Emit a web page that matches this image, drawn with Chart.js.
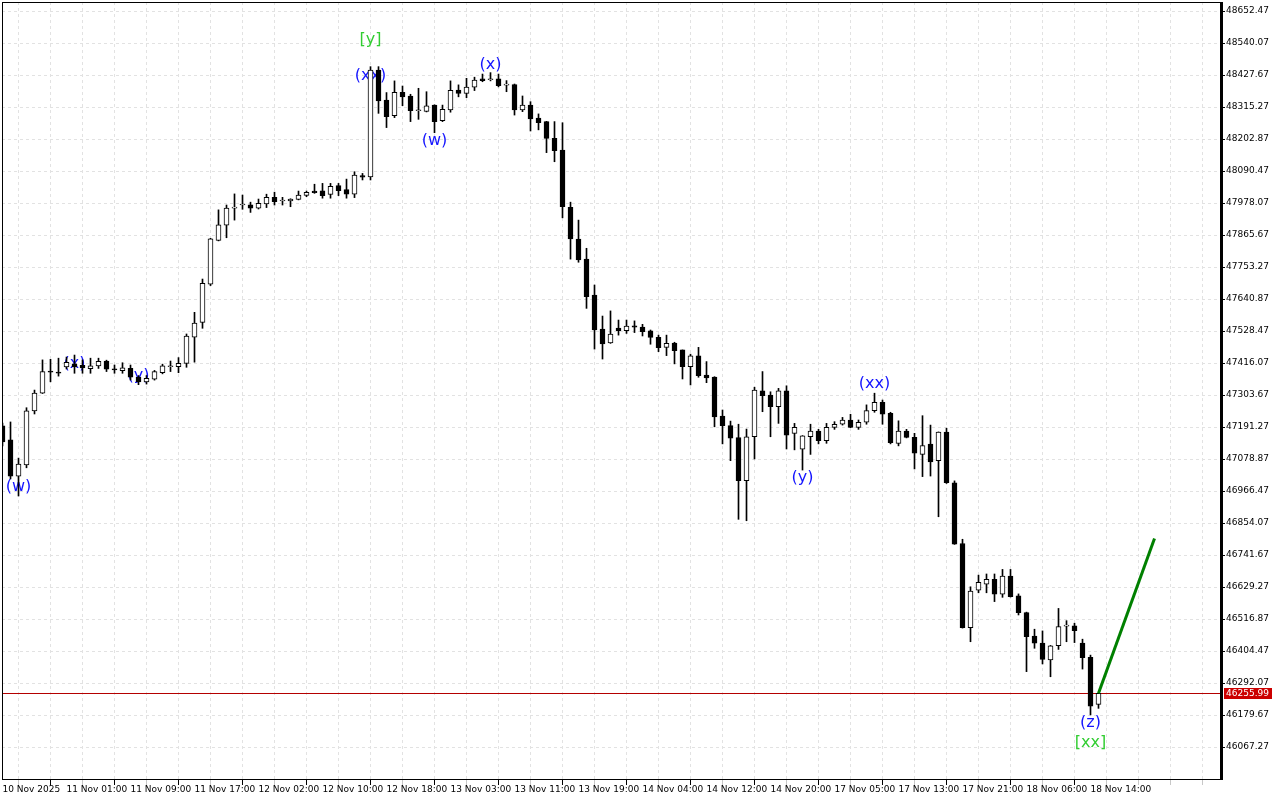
<!DOCTYPE html>
<html>
<head>
<meta charset="utf-8">
<script src="https://cdn.jsdelivr.net/npm/chart.js@4.4.1/dist/chart.umd.min.js"></script>
<style>
  html, body { margin: 0; padding: 0; background: #fff; }
</style>
</head>
<body>
<canvas id="chart" width="1280" height="800"></canvas>
<script>
// hourly candles, bar 0 = 10 Nov 16:00 ... bar 137 = 18 Nov 15:00
const opens = [
  47195, 47146, 47019, 47058, 47248, 47310, 47386, 47384, 47402, 47413,
  47408, 47396, 47406, 47423, 47394, 47389, 47397, 47366, 47350, 47359,
  47382, 47403, 47403, 47415, 47507, 47559, 47693, 47847, 47900, 47960,
  47971, 47972, 47960, 47975, 47998, 47985, 47985, 47991, 48005, 48020,
  48021, 48008, 48039, 48025, 48009, 48074, 48070, 48445, 48340, 48285,
  48367, 48354, 48302, 48300, 48322, 48267, 48305, 48375, 48363, 48385,
  48414, 48411, 48414, 48392, 48394, 48305, 48322, 48276, 48264, 48205,
  48164, 47963, 47851, 47781, 47655, 47535, 47487, 47539, 47530, 47547,
  47542, 47529, 47506, 47471, 47486, 47462, 47403, 47441, 47374, 47367,
  47230, 47196, 47154, 47003, 47157, 47318, 47303, 47263, 47318, 47169,
  47113, 47157, 47177, 47143, 47190, 47201, 47216, 47190, 47208, 47249,
  47278, 47239, 47134, 47177, 47155, 47095, 47131, 47073, 47173, 46995,
  46782, 46486, 46618, 46639, 46656, 46604, 46668, 46598, 46539, 46457,
  46432, 46373, 46423, 46492, 46493, 46432, 46382, 46217
];
const highs = [
  47205, 47209, 47082, 47259, 47321, 47427, 47429, 47433, 47437, 47444,
  47427, 47433, 47433, 47426, 47409, 47417, 47409, 47372, 47372, 47390,
  47412, 47423, 47435, 47518, 47594, 47711, 47854, 47954, 47971, 48010,
  48006, 47981, 47992, 48009, 48016, 47998, 47993, 48020, 48020, 48044,
  48047, 48047, 48047, 48062, 48088, 48082, 48457, 48457, 48366, 48407,
  48389, 48360, 48381, 48369, 48323, 48322, 48407, 48393, 48416, 48420,
  48431, 48436, 48431, 48408, 48396, 48354, 48334, 48291, 48265, 48264,
  48260, 47981, 47918, 47819, 47690, 47581, 47599, 47567, 47567, 47564,
  47552, 47532, 47514, 47514, 47489, 47462, 47447, 47471, 47421, 47368,
  47251, 47212, 47201, 47184, 47331, 47386, 47315, 47327, 47336, 47204,
  47161, 47201, 47183, 47204, 47210, 47225, 47236, 47216, 47269, 47310,
  47286, 47243, 47213, 47183, 47169, 47231, 47198, 47174, 47187, 47002,
  46797, 46630, 46671, 46675, 46675, 46691, 46691, 46605, 46541, 46481,
  46475, 46424, 46554, 46511, 46502, 46446, 46390, 46256
];
const lows = [
  47125, 47009, 46949, 47048, 47237, 47309, 47350, 47370, 47395, 47380,
  47380, 47380, 47397, 47386, 47380, 47380, 47356, 47340, 47342, 47356,
  47378, 47386, 47382, 47401, 47419, 47538, 47688, 47845, 47856, 47918,
  47956, 47945, 47957, 47962, 47971, 47971, 47965, 47989, 48000, 48012,
  47995, 47995, 48004, 47995, 47997, 48059, 48059, 48293, 48243, 48278,
  48320, 48264, 48272, 48298, 48225, 48264, 48297, 48351, 48348, 48373,
  48404, 48407, 48386, 48369, 48287, 48299, 48231, 48235, 48155, 48123,
  47926, 47781, 47770, 47608, 47465, 47430, 47485, 47514, 47520, 47523,
  47511, 47482, 47456, 47442, 47413, 47360, 47339, 47366, 47347, 47192,
  47132, 47073, 46867, 46862, 47079, 47245, 47157, 47204, 47114, 47111,
  47040, 47095, 47132, 47134, 47183, 47198, 47189, 47183, 47201, 47243,
  47201, 47132, 47125, 47153, 47044, 47017, 47019, 46876, 46993, 46779,
  46485, 46437, 46609, 46609, 46578, 46593, 46594, 46531, 46332, 46414,
  46359, 46314, 46410, 46437, 46434, 46341, 46180, 46203
];
const closes = [
  47139, 47019, 47061, 47248, 47310, 47386, 47384, 47380, 47418, 47402,
  47399, 47406, 47422, 47394, 47392, 47399, 47366, 47350, 47362, 47386,
  47406, 47405, 47415, 47511, 47556, 47696, 47852, 47901, 47960, 47962,
  47973, 47960, 47977, 47998, 47983, 47987, 47992, 48006, 48016, 48014,
  48004, 48037, 48021, 48009, 48076, 48069, 48445, 48337, 48281, 48367,
  48351, 48302, 48303, 48319, 48264, 48307, 48374, 48363, 48385, 48410,
  48408, 48413, 48390, 48394, 48305, 48322, 48273, 48260, 48205, 48162,
  47965, 47852, 47778, 47649, 47532, 47483, 47518, 47530, 47546, 47542,
  47526, 47506, 47470, 47485, 47459, 47403, 47441, 47372, 47364, 47227,
  47196, 47152, 47003, 47157, 47321, 47301, 47263, 47318, 47163, 47190,
  47160, 47177, 47143, 47190, 47201, 47216, 47190, 47208, 47249, 47278,
  47236, 47136, 47177, 47155, 47099, 47126, 47069, 47173, 46996, 46780,
  46486, 46615, 46646, 46656, 46604, 46668, 46595, 46539, 46455, 46432,
  46375, 46423, 46490, 46494, 46476, 46381, 46211, 46255.99
];

// time axis labels, one every 8 bars
const tickLabels = [
  '10 Nov 2025', '11 Nov 01:00', '11 Nov 09:00', '11 Nov 17:00', '12 Nov 02:00',
  '12 Nov 10:00', '12 Nov 18:00', '13 Nov 03:00', '13 Nov 11:00', '13 Nov 19:00',
  '14 Nov 04:00', '14 Nov 12:00', '14 Nov 20:00', '17 Nov 05:00', '17 Nov 13:00',
  '17 Nov 21:00', '18 Nov 06:00', '18 Nov 14:00'
];
// price scale labels
const yTicks = [
  48652.47, 48540.07, 48427.67, 48315.27, 48202.87, 48090.47, 47978.07, 47865.67,
  47753.27, 47640.87, 47528.47, 47416.07, 47303.67, 47191.27, 47078.87, 46966.47,
  46854.07, 46741.67, 46629.27, 46516.87, 46404.47, 46292.07, 46179.67, 46067.27
];

// projected move
const projBars = [137, 144];
const projPrices = [46255.99, 46800];

// wave marks
const waveText  = ['(w)', '(x)', '(y)', '[y]', '(xx)', '(w)', '(x)', '(y)', '(xx)', '(z)', '[xx]'];
const waveBar   = [2, 9, 17, 46, 46, 54, 61, 100, 109, 136, 136];
const wavePrice = [46980, 47413, 47371, 48551, 48424, 48196, 48463, 47012, 47342, 46152, 46081];
const waveColor = ['#1515ff', '#1515ff', '#1515ff', '#32cd32', '#1515ff', '#1515ff', '#1515ff', '#1515ff', '#1515ff', '#1515ff', '#32cd32'];

const lastPrice = closes[closes.length - 1];
const FONT = 'DejaVu Sans';

const overlay = {
  id: 'overlay',
  beforeDatasetsDraw(chart) {
    const { ctx, chartArea: a, scales: { x, y } } = chart;
    ctx.save();
    // wave labels sit under the candles
    ctx.font = '16px "' + FONT + '"';
    ctx.textAlign = 'center';
    ctx.textBaseline = 'middle';
    waveText.forEach((t, i) => {
      ctx.fillStyle = waveColor[i];
      ctx.fillText(t, x.getPixelForValue(waveBar[i]), y.getPixelForValue(wavePrice[i]));
    });
    // last price line
    const py = Math.round(y.getPixelForValue(lastPrice)) + 0.5;
    ctx.strokeStyle = '#b40000';
    ctx.lineWidth = 1;
    ctx.beginPath();
    ctx.moveTo(a.left, py);
    ctx.lineTo(a.right, py);
    ctx.stroke();
    ctx.restore();
  },
  afterDraw(chart) {
    const { ctx, chartArea: a, scales: { y } } = chart;
    ctx.save();
    ctx.strokeStyle = '#000';
    ctx.lineWidth = 1;
    ctx.strokeRect(a.left + 0.5, a.top + 0.5, a.right - a.left, a.bottom - a.top);
    ctx.fillStyle = '#000';
    ctx.fillRect(a.right - 2, a.top, 3, a.bottom - a.top + 1);
    // price tag
    const py = Math.round(y.getPixelForValue(lastPrice));
    ctx.fillStyle = '#cc0000';
    ctx.fillRect(a.right + 2, py - 5, 48, 11);
    ctx.fillStyle = '#fff';
    ctx.font = '9px "' + FONT + '"';
    ctx.textBaseline = 'middle';
    ctx.textAlign = 'left';
    ctx.fillText(lastPrice.toFixed(2), a.right + 4, py + 1);
    ctx.restore();
  }
};

new Chart(document.getElementById('chart'), {
  type: 'bar',
  data: {
    datasets: [
      {
        label: 'wick',
        data: highs.map((h, i) => ({ x: i, y: [lows[i], h] })),
        backgroundColor: '#000',
        barThickness: 1,
        grouped: false,
        order: 3
      },
      {
        label: 'body',
        data: opens.map((o, i) => ({ x: i, y: [o, closes[i]] })),
        backgroundColor: opens.map((o, i) => closes[i] >= o ? '#fff' : '#000'),
        borderColor: '#000',
        borderWidth: 1,
        borderSkipped: false,
        barThickness: 5,
        minBarLength: 1,
        grouped: false,
        order: 2
      },
      {
        type: 'line',
        label: 'projection',
        data: projBars.map((b, i) => ({ x: b, y: projPrices[i] })),
        borderColor: '#008000',
        borderWidth: 3,
        pointRadius: 0,
        order: 1
      }
    ]
  },
  options: {
    responsive: false,
    animation: false,
    events: [],
    layout: { padding: { top: 2, left: 2, right: 0, bottom: 0 } },
    plugins: { legend: { display: false }, tooltip: { enabled: false } },
    scales: {
      x: {
        type: 'linear',
        offset: false,
        min: -0.0625,
        max: 152.4375,
        afterBuildTicks: (s) => {
          const t = [];
          for (let v = 0; v <= 152; v += 4) t.push({ value: v });
          s.ticks = t;
        },
        afterFit: (s) => {
          s.height = 21;
          s.paddingLeft = 0;
          s.paddingRight = 0;
        },
        grid: {
          color: '#e2e2e2',
          tickLength: 6,
          tickColor: (c) => (c.tick && c.tick.value % 8 === 0 && c.tick.value <= 136) ? '#000' : '#c8c8c8'
        },
        border: { display: false, dash: [3, 3] },
        ticks: {
          align: 'start',
          autoSkip: false,
          maxRotation: 0,
          minRotation: 0,
          padding: 0,
          color: '#000',
          font: { family: FONT, size: 9, lineHeight: 1 },
          callback: (v) => (v % 8 === 0 && tickLabels[v / 8]) ? tickLabels[v / 8] : ''
        }
      },
      y: {
        type: 'linear',
        position: 'right',
        min: 45954.87,
        max: 48684.1,
        afterBuildTicks: (s) => { s.ticks = yTicks.map(v => ({ value: v })); },
        afterFit: (s) => {
          s.width = 58;
          s.paddingTop = 0;
          s.paddingBottom = 0;
        },
        grid: { color: '#e2e2e2', tickLength: 3, tickColor: '#000' },
        border: { display: false, dash: [3, 3] },
        ticks: {
          crossAlign: 'near',
          padding: 1,
          color: '#000',
          font: { family: FONT, size: 9 },
          callback: (v) => Number(v).toFixed(2)
        }
      }
    }
  },
  plugins: [overlay]
});
</script>
</body>
</html>
